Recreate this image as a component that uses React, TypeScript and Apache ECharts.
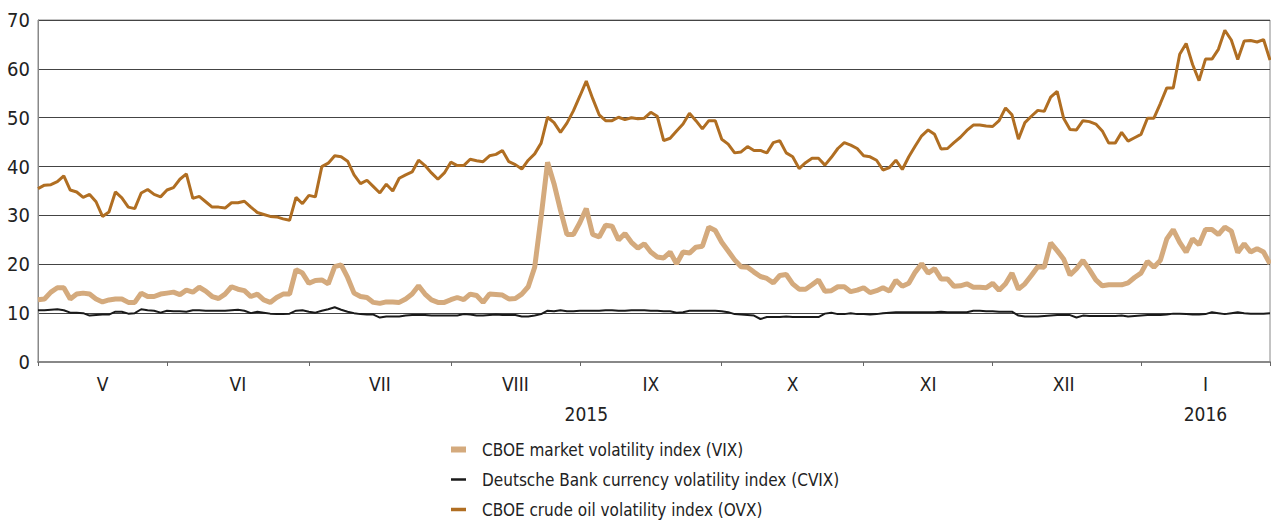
import React, { useEffect, useRef } from "react";
import * as echarts from "echarts";

const monthNames = ["V", "VI", "VII", "VIII", "IX", "X", "XI", "XII", "I"];
const monthDays = [20, 22, 22, 20, 22, 22, 20, 23, 21];
const yearLabels = ["2015", "2016"];
const yearMonthCounts = [8, 1];

const vix = [
  12.75, 12.9, 14.3, 15.2, 15.2, 12.9, 13.9, 14.1, 13.9, 12.9,
  12.3, 12.7, 12.9, 12.9, 12.2, 12.2, 14.1, 13.4, 13.4, 13.9,
  14.1, 14.3, 13.8, 14.7, 14.3, 15.3, 14.5, 13.4, 13.0, 13.9,
  15.4, 14.9, 14.6, 13.4, 13.9, 12.7, 12.2, 13.2, 13.9, 13.9,
  18.9, 18.2, 16.1, 16.7, 16.8, 16.0, 19.5, 19.9, 17.3, 14.1,
  13.4, 13.2, 12.2, 12.0, 12.3, 12.3, 12.2, 12.9, 13.9, 15.6,
  13.9, 12.7, 12.2, 12.2, 12.75, 13.2, 12.75, 13.9, 13.6, 12.2,
  13.9, 13.8, 13.7, 12.9, 13.0, 13.9, 15.4, 19.4, 29.7, 40.9,
  36.5, 31.1, 26.1, 26.1, 28.5, 31.4, 26.1, 25.6, 28.0, 27.8,
  25.0, 26.3, 24.5, 23.3, 24.2, 22.5, 21.5, 21.3, 22.5, 20.1,
  22.5, 22.3, 23.5, 23.7, 27.6, 26.9, 24.5, 22.7, 20.9, 19.5,
  19.4, 18.4, 17.5, 17.1, 16.2, 17.7, 17.9, 16.0, 14.9, 14.9,
  15.8, 16.8, 14.5, 14.6, 15.4,
  15.4, 14.4, 14.7, 15.2, 14.2, 14.6, 15.2, 14.5, 16.7, 15.5,
  16.1, 18.4, 20.1, 18.2, 19.1, 17.0, 17.0, 15.5, 15.6, 16.0,
  15.3, 15.3, 15.2, 16.1, 14.7, 16.0, 18.2, 14.9, 16.0, 17.7,
  19.5, 19.4, 24.4, 22.8, 21.1, 17.8, 19.1, 20.8, 18.9, 16.8,
  15.6, 15.8, 15.8, 15.8, 16.2, 17.3, 18.2, 20.6, 19.4, 20.8,
  25.2, 27.1, 24.5, 22.5, 25.2, 24.0, 27.1, 27.1, 26.1, 27.6,
  26.8, 22.4, 24.2, 22.5, 23.2, 22.5, 20.1,
];

const cvix = [
  10.6, 10.6, 10.7, 10.8, 10.6, 10.1, 10.1, 10.0, 9.5, 9.6,
  9.7, 9.7, 10.3, 10.3, 9.9, 10.0, 10.8, 10.6, 10.5, 10.1,
  10.5, 10.4, 10.4, 10.3, 10.6, 10.6, 10.5, 10.5, 10.5, 10.5,
  10.6, 10.7, 10.5, 10.0, 10.3, 10.1, 9.9, 9.8, 9.8, 9.9,
  10.5, 10.6, 10.3, 10.1, 10.5, 10.8, 11.2, 10.7, 10.3, 10.0,
  9.8, 9.7, 9.7, 9.1, 9.3, 9.3, 9.3, 9.5, 9.6, 9.6,
  9.6, 9.5, 9.5, 9.5, 9.5, 9.5, 9.8, 9.7, 9.5, 9.5,
  9.6, 9.7, 9.6, 9.6, 9.6, 9.3, 9.3, 9.5, 9.8, 10.5,
  10.4, 10.6, 10.4, 10.4, 10.5, 10.5, 10.5, 10.5, 10.6, 10.6,
  10.5, 10.5, 10.6, 10.6, 10.6, 10.5, 10.5, 10.4, 10.4, 10.1,
  10.2, 10.5, 10.5, 10.5, 10.5, 10.5, 10.4, 10.2, 9.8, 9.7,
  9.6, 9.5, 8.8, 9.2, 9.2, 9.2, 9.3, 9.2, 9.2, 9.2,
  9.2, 9.2, 9.9, 10.1, 9.8,
  9.8, 10.0, 9.8, 9.8, 9.7, 9.8, 10.0, 10.1, 10.2, 10.2,
  10.2, 10.2, 10.2, 10.2, 10.2, 10.3, 10.2, 10.2, 10.2, 10.2,
  10.5, 10.5, 10.4, 10.4, 10.3, 10.3, 10.3, 9.5, 9.3, 9.3,
  9.3, 9.4, 9.5, 9.6, 9.6, 9.6, 9.1, 9.5, 9.4, 9.4,
  9.4, 9.4, 9.4, 9.5, 9.3, 9.4, 9.5, 9.6, 9.6, 9.6,
  9.7, 9.9, 9.9, 9.8, 9.7, 9.7, 9.8, 10.2, 10.0, 9.8,
  10.0, 10.2, 10.0, 9.9, 9.9, 9.9, 10.0,
];

const ovx = [
  35.5, 36.2, 36.3, 36.9, 38.1, 35.2, 34.8, 33.7, 34.3, 32.8,
  29.8, 30.7, 34.8, 33.6, 31.7, 31.4, 34.6, 35.3, 34.3, 33.8,
  35.2, 35.7, 37.4, 38.5, 33.5, 33.9, 32.8, 31.7, 31.7, 31.5,
  32.6, 32.6, 32.9, 31.7, 30.6, 30.2, 29.8, 29.7, 29.3, 29.0,
  33.7, 32.4, 34.1, 33.8, 40.0, 40.7, 42.2, 42.0, 41.1, 38.3,
  36.5, 37.2, 35.9, 34.6, 36.4, 35.0, 37.6, 38.3, 38.9, 41.3,
  40.2, 38.7, 37.4, 38.7, 40.9, 40.2, 40.2, 41.5, 41.2, 41.0,
  42.2, 42.5, 43.3, 41.0, 40.4, 39.5, 41.3, 42.6, 44.8, 50.1,
  49.0, 47.0, 48.9, 51.4, 54.4, 57.5, 53.9, 50.6, 49.4, 49.4,
  50.1, 49.6, 50.0, 49.8, 49.9, 51.1, 50.3, 45.3, 45.8, 47.3,
  48.7, 50.9, 49.4, 47.7, 49.4, 49.4, 45.6, 44.6, 42.8, 43.0,
  44.1, 43.3, 43.3, 42.8, 44.9, 45.3, 42.8, 42.0, 39.6, 40.8,
  41.7, 41.7, 40.3, 41.9, 43.7,
  44.9, 44.4, 43.7, 42.2, 42.0, 41.3, 39.3, 39.8, 41.3, 39.4,
  42.0, 44.2, 46.3, 47.5, 46.6, 43.6, 43.7, 44.9, 46.0, 47.4,
  48.5, 48.5, 48.3, 48.2, 49.4, 52.0, 50.6, 45.6, 49.0, 50.3,
  51.5, 51.3, 54.2, 55.4, 49.9, 47.6, 47.5, 49.4, 49.2, 48.7,
  47.3, 44.8, 44.8, 47.0, 45.2, 45.9, 46.6, 49.9, 49.9, 52.9,
  56.1, 56.1, 63.0, 65.2, 60.9, 57.6, 62.0, 62.0, 64.0, 67.9,
  65.9, 61.9, 65.7, 65.8, 65.5, 66.0, 61.8,
];

const seriesNames = [
  "CBOE market volatility index (VIX)",
  "Deutsche Bank currency volatility index (CVIX)",
  "CBOE crude oil volatility index (OVX)",
];
const seriesColors = ["#D4AA7D", "#1a1a1a", "#B06E22"];
const legendIcons = [
  "path://M0,0 L15,0 L15,6 L0,6 Z",
  "path://M0,0 L15,0 L15,2.5 L0,2.5 Z",
  "path://M0,0 L15,0 L15,3.5 L0,3.5 Z",
];

const FONT = "'Liberation Sans Narrow', 'DejaVu Sans Condensed', 'Roboto Condensed', Arial, sans-serif";

function buildAxis() {
  const categories: string[] = [];
  const monthStarts: number[] = [];
  const monthMid: Record<number, string> = {};
  monthNames.forEach((m, mi) => {
    const start = categories.length;
    monthStarts.push(start);
    monthMid[start + Math.floor(monthDays[mi] / 2)] = m;
    for (let d = 0; d < monthDays[mi]; d++) categories.push(`${m}-${d + 1}`);
  });
  const tickSet = new Set<number>([...monthStarts, categories.length - 1]);
  const yearMid: Record<number, string> = {};
  let mIdx = 0;
  yearLabels.forEach((y, yi) => {
    const start = monthStarts[mIdx];
    const endMonth = mIdx + yearMonthCounts[yi];
    const end = endMonth < monthStarts.length ? monthStarts[endMonth] : categories.length;
    yearMid[start + Math.floor((end - start) / 2)] = y;
    mIdx = endMonth;
  });
  return { categories, tickSet, monthMid, yearMid };
}

export default function App() {
  const ref = useRef<HTMLDivElement>(null);
  useEffect(() => {
    if (!ref.current) return;
    const chart = echarts.init(ref.current, undefined, { renderer: "svg" });
    const { categories, tickSet, monthMid, yearMid } = buildAxis();
    chart.setOption({
      animation: false,
      backgroundColor: "#ffffff",
      textStyle: { fontFamily: FONT },
      grid: {
        left: 38,
        right: 1,
        top: 20,
        bottom: 160,
        show: true,
        borderColor: "#888",
        borderWidth: 1,
        containLabel: false,
      },
      legend: {
        orient: "vertical",
        left: 451,
        top: 441,
        padding: 0,
        itemGap: 13,
        itemWidth: 15,
        itemHeight: 14,
        textStyle: {
          fontFamily: FONT,
          fontSize: 17,
          lineHeight: 17,
          color: "#222",
          padding: [0, 0, 0, 11],
        },
        data: seriesNames.map((n, i) => ({
          name: n,
          icon: legendIcons[i],
          itemStyle: { color: seriesColors[i] },
        })),
      },
      xAxis: [
        {
          type: "category",
          data: categories,
          boundaryGap: false,
          axisLine: { lineStyle: { color: "#888", width: 2 } },
          axisTick: {
            show: true,
            length: 4,
            interval: (i: number) => tickSet.has(i),
            lineStyle: { color: "#666" },
          },
          axisLabel: {
            interval: (i: number) => monthMid[i] !== undefined,
            formatter: (_v: string, i: number) => monthMid[i] ?? "",
            fontFamily: FONT,
            fontSize: 19,
            color: "#222",
            margin: 12,
          },
          splitLine: { show: false },
        },
        {
          type: "category",
          data: categories,
          boundaryGap: false,
          position: "bottom",
          offset: 30,
          axisLine: { show: false },
          axisTick: { show: false },
          axisLabel: {
            interval: (i: number) => yearMid[i] !== undefined,
            formatter: (_v: string, i: number) => yearMid[i] ?? "",
            fontFamily: FONT,
            fontSize: 19,
            color: "#222",
            margin: 12,
          },
          splitLine: { show: false },
        },
      ],
      yAxis: {
        type: "value",
        min: 0,
        max: 70,
        interval: 10,
        axisLine: { show: true, lineStyle: { color: "#888", width: 1 } },
        axisTick: { show: false },
        axisLabel: { fontFamily: FONT, fontSize: 20, color: "#222", margin: 8 },
        splitLine: { lineStyle: { color: "#444", width: 1 } },
      },
      series: [
        {
          name: seriesNames[0],
          type: "line",
          data: vix,
          symbol: "none",
          color: seriesColors[0],
          lineStyle: { color: seriesColors[0], width: 5 },
          z: 2,
        },
        {
          name: seriesNames[1],
          type: "line",
          data: cvix,
          symbol: "none",
          color: seriesColors[1],
          lineStyle: { color: seriesColors[1], width: 2 },
          z: 3,
        },
        {
          name: seriesNames[2],
          type: "line",
          data: ovx,
          symbol: "none",
          color: seriesColors[2],
          lineStyle: { color: seriesColors[2], width: 3 },
          z: 4,
        },
      ],
    });
    return () => chart.dispose();
  }, []);
  return (
    <div
      ref={ref}
      style={{ position: "fixed", left: 0, top: 0, width: 1271, height: 522 }}
    />
  );
}
